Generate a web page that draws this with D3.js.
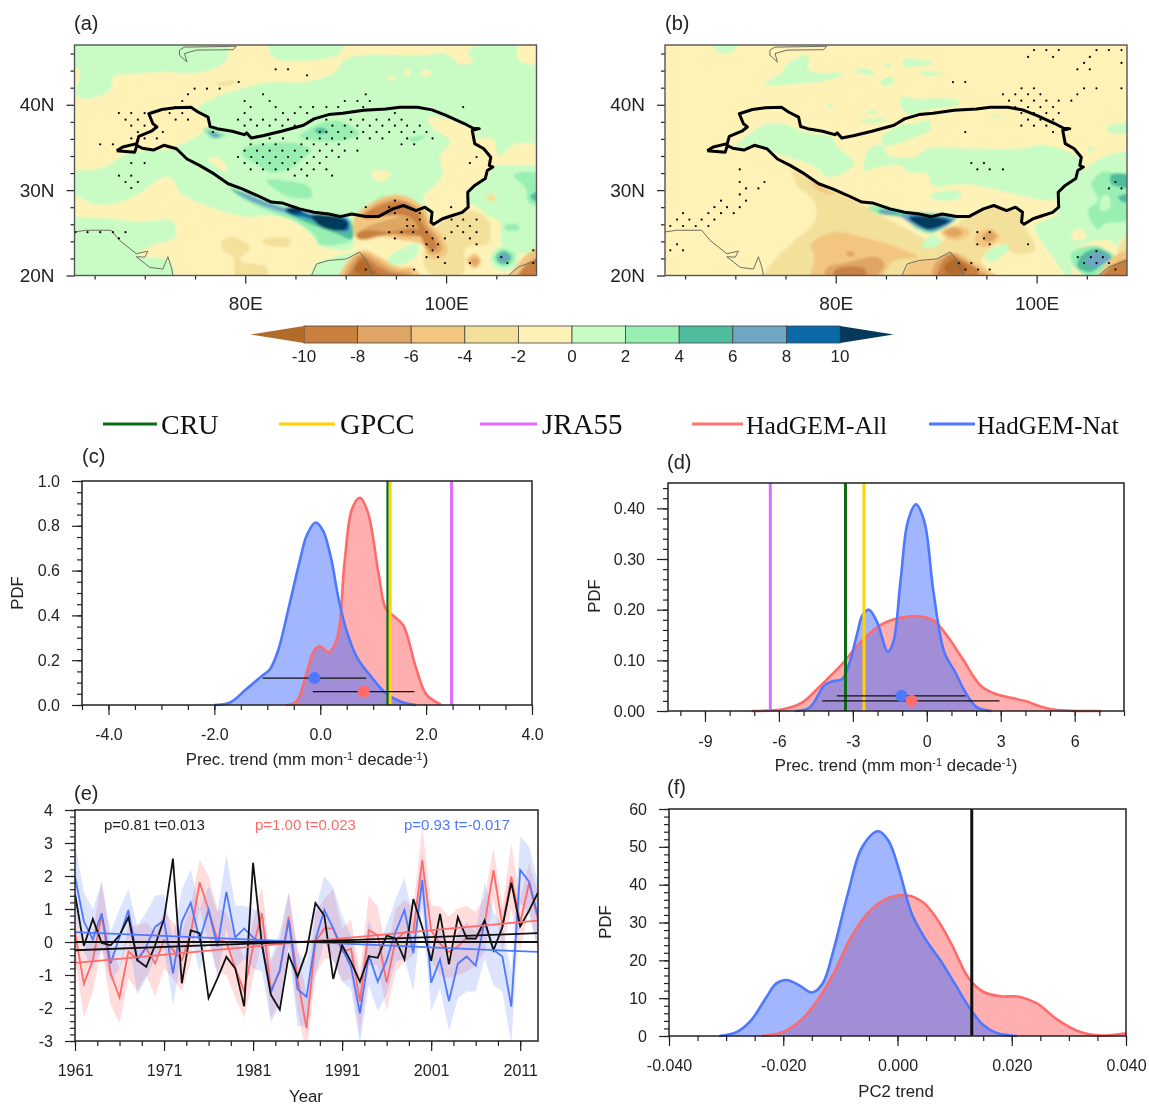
<!doctype HTML>
<html>
<head>
<meta charset="utf-8">
<script src="https://d3js.org/d3.v7.min.js"></script>
<style>
    html, body { margin: 0; background: #fff; }
    svg { display: block; filter: blur(0.4px); }
    text { font-family: "Liberation Sans", Arial, sans-serif; fill: #222; }
    .serif { font-family: "Liberation Serif", serif; fill: #111; }
</style>
</head>
<body>
<div id="viz"></div>
<script>
// ---- shared colour levels (prec. trend)
var levelBreaks = [-10, -8, -6, -4, -2, 0, 2, 4, 6, 8, 10];
var levelColors = ["#b36b2a", "#c9803f", "#dfa564", "#f3c67f", "#f3e09b", "#fef2b7",
                   "#c8fcc4", "#99efb2", "#50bc9e", "#6fa6c4", "#0a6aa8", "#053a5c"];

// Tibetan Plateau outline lon/lat
var tpOutline = [[67.2,34.6],[67.8,35.05],[69.2,35.45],[69.4,36.3],[70.65,36.9],[71.2,37.4],[70.8,37.8],[70.4,38.95],[71.7,39.45],[73,39.65],[74.6,39.7],[75.3,39.15],[76.3,38.55],[76.5,37.45],[77.2,37.2],[78.7,36.9],[79.9,36.5],[80.15,36.7],[80.6,36.1],[81.85,36.4],[83.6,36.9],[85.8,37.6],[86.85,38.35],[88.3,38.85],[89.7,39],[91.8,39.35],[94,39.5],[95.4,39.7],[97.15,39.7],[98.6,39.4],[100,38.75],[101.8,37.8],[102.7,37.25],[103.3,37.2],[102.6,37],[102.85,35.45],[103.75,34.85],[104.45,33.85],[104.3,32.9],[104.65,32.7],[104.1,32.3],[103.9,31.35],[102.85,30.55],[102.15,29.75],[102.2,28],[101.6,27.4],[100.55,27],[99.65,26.65],[98.75,26],[98.5,26.25],[98.6,27.4],[97.9,28],[97,27.6],[95.75,28.2],[94.7,27.8],[93.25,26.9],[92,26.9],[90.6,27.2],[89.5,26.9],[88.3,27.2],[86.85,27.4],[85.4,27.8],[83.65,28.5],[82.6,28.6],[81.15,29.4],[79.7,30.15],[78.3,30.75],[76.9,31.9],[75.45,32.9],[74.2,33.65],[73.15,34.85],[71.9,35.25],[70.85,34.7],[69.75,34.9],[69.2,35.25],[69,34.45],[67.2,34.6]];

var coastAral = [[73.45,46.4],[73.95,46.75],[79.1,46.85],[78.8,46.45],[75.15,46.4],[73.95,46],[74.2,45],[73.45,45.8],[73.45,46.4]];
var coastWest = [[63,25.1],[64.15,25.3],[66.65,25.3],[67.5,24.1],[69.15,22.55],[70.3,22.85],[70,22.15],[69.15,22.2],[70.5,20.95],[71.8,20.75],[72.3,22.2],[72.65,20.95],[72.8,20]];
var coastBengal = [[86.6,20],[87.1,21.35],[88.25,21.75],[90.1,21.95],[91.4,22.75],[92.05,21.75],[92.75,20]];
var coastSouthEast = [[106.2,20],[107.2,21],[109,21.75]];

// filled contour regions panel (a): [trend value, ring of lon/lat]. painted in order over a -1 background
var fieldsA = [
  [1, [[62,48],[78.1,48],[78.1,45.2],[76.8,44.2],[74.1,43.65],[72.5,43.85],[69.15,43.65],[66.8,43.25],[66.65,41.9],[64.5,40.7],[63.15,41.1],[63.5,44.05],[62,44.6]]],
  [1, [[82.4,48],[89.7,48],[89.4,46],[83,45.4],[82.4,46.3]]],
  [1, [[75.3,39.55],[77.1,40.9],[79.1,41.7],[82.4,42.65],[85.75,42.65],[88.75,43.65],[90.1,45.4],[97.7,45.8],[99.9,46],[101.35,44.8],[102.7,45],[102.2,46.2],[107,48],[107.2,45.2],[110,44],[110,23.15],[107,22.75],[105.5,23.7],[105.35,26.25],[104.2,27],[102.4,28.4],[99.05,26.45],[95.7,28.8],[91.75,27.6],[90.75,25.7],[90.6,23.15],[87.4,23.5],[86.75,24.5],[85.1,26.25],[82.75,27],[80.1,26.85],[77.45,27.6],[73.65,29.6],[72.45,31.55],[68.15,28.8],[65,28.4],[62,30.75],[62,32.1],[65.5,32.5],[68.65,34.45],[72.45,34.85],[75.8,36.8],[76.45,37.8]]],
  [1, [[62,26.3],[65.85,26.7],[69.15,26.3],[72.8,26.3],[73,24.55],[70.8,23.55],[69.3,22.35],[72.45,21.7],[72.8,19],[62,19]]],
  [1, [[86.4,19.8],[87.1,21.35],[88.75,22.15],[91.1,22.75],[91.75,22.55],[90.1,20.6],[89.4,19.8]]],
  [1, [[104.35,22.15],[105.7,23.55],[107.2,22.55],[106.7,20.8],[105,20.8]]],
  [-1, [[98.2,38.5],[100,38.35],[102.7,37],[103,36.2],[104.7,36],[105.2,34.05],[107,35.45],[110,34.85],[110,33.3],[105.35,32.9],[104.5,32.7],[104.35,32.1],[102.7,30.35],[102,29.2],[101.9,27.6],[99.7,26.85],[98.7,26.05],[98.2,27.6],[97.7,29.2],[98.7,30.35],[99.7,31.9],[99.4,33.9],[100.4,35.8],[98.7,37.2]]],
  [-1, [[92.55,32.1],[94.4,32.1],[94.05,31.15],[93.05,31.15]]],
  [-1, [[76.3,33.7],[77.45,33.7],[78.3,32.1],[77.45,32.5]]],
  [-1, [[97.55,44],[98.4,44],[98.4,43.45],[97.55,43.45]]],
  [-1, [[96.05,44.2],[96.4,44.2],[96.3,43.3],[96,43.3]]],
  [-1, [[94.05,43.25],[95.05,43.2],[94.4,42.85]]],
  [-3, [[104,29.2],[104.5,29.6],[105,29],[104.5,28.6]]],
  [-3, [[76.95,42.45],[79.3,42.85],[78.1,42.2]]],
  [-3, [[99.05,25.7],[100.4,26.85],[102.4,27.6],[104.2,26.45],[104.2,23.7],[102,23.3],[101.7,20.2],[98.7,20],[97.7,22.15]]],
  [-3, [[77.6,23.9],[78.8,24.5],[80.45,23.3],[79.45,21.75],[82.1,21],[82.1,19.8],[79.1,19.8],[78.8,22.15],[77.8,22.95]]],
  [-3, [[81.6,24.1],[84.4,24.3],[84.4,23.5],[82.4,23.5]]],
  [3, [[92.55,28.4],[93.75,29.4],[93.6,28.4]]],
  [-5, [[90.9,26.9],[93.75,29.2],[95.7,29.4],[97.9,27.8],[98.55,26.05],[99.7,24.5],[100.05,22.55],[98.55,21.95],[97.55,23.7],[95.7,24.1],[93.75,24.5],[91.75,24.1],[90.9,24.5],[90.75,25.45]]],
  [-7, [[91.55,26.9],[93.9,28.8],[95.7,28.85],[97.55,27.6],[98.2,25.85],[99.2,24.5],[99.55,22.95],[98.4,22.55],[97.55,24.5],[96.05,24.5],[93.75,25.1],[92.05,24.5],[91.15,24.9],[92.4,25.85],[95.4,27]]],
  [-9, [[91.75,27],[93.9,28.4],[95.7,28.6],[97.05,27.6],[97.7,26],[98.9,24.1],[99.05,23.15],[98.2,23.15],[97.4,24.9],[97.05,26.05],[96.05,27],[94.05,27],[92.05,26.65]]],
  [-9, [[91.15,24.9],[92.4,25.3],[94.4,25.1],[97.05,25.45],[97.7,24.7],[95.7,24.9],[93.4,24.7],[92.05,24.3],[91.3,24.3]]],
  [-5, [[89.4,19],[90.1,21.55],[91.75,22.95],[93.4,22.15],[95.4,20.95],[96.7,20.95],[97.7,19]]],
  [-7, [[89.9,19],[90.4,21.35],[91.65,22.6],[93.2,21.75],[94.9,20.6],[96.4,20.4],[96.7,19]]],
  [-9, [[90.2,19],[90.9,21.35],[91.65,22.3],[92.9,21.35],[94.4,20.4],[95.7,20],[95.9,19]]],
  [-11, [[90.9,20.6],[91.75,21.95],[92.55,20.95],[93.2,20.2],[91.4,20.2]]],
  [-3, [[106,19],[107.2,21.35],[110,24],[110,19]]],
  [-5, [[106.4,19],[107.7,22.15],[110,23.2],[110,19]]],
  [-9, [[107,19],[108,21.35],[110,22.15],[110,19]]],
  [-5, [[102,21.75],[102.85,22.55],[103.5,21.75],[102.85,20.8]]],
  [-7, [[102.4,21.65],[102.85,22.15],[103.3,21.55],[102.85,21.15]]],
  [3, [[104.7,22.15],[105.7,23.15],[106.85,22.35],[106.35,21.2],[105.2,21.2]]],
  [5, [[105,22.15],[105.7,22.85],[106.5,22.2],[106.1,21.45],[105.35,21.45]]],
  [7, [[105.2,22.15],[105.7,22.65],[106.3,22.15],[105.85,21.7],[105.4,21.7]]],
  [1, [[94.25,22.15],[95.7,23.15],[97.05,23.9],[97.2,22.55],[95.7,21.35],[94.4,21.35]]],
  [3, [[78.45,30.35],[80.1,29.75],[83.1,28.4],[85.75,27.4],[90.1,27],[90.75,25.65],[90.6,24.1],[87.4,23.7],[86.9,24.7],[85.1,26.25],[82.1,27.6],[79.45,29.2]]],
  [5, [[78.6,30.15],[82.45,28.4],[86.4,27.2],[90.4,26.45],[90.6,24.3],[89.1,24.9],[86.4,26.05],[83.4,27.6],[79.45,29.4]]],
  [7, [[79.45,29.75],[83.1,28.2],[86.75,27.2],[90.4,26.45],[90.1,25.1],[88.4,25.65],[86.1,26.85],[83.75,27.4],[79.8,29.2]]],
  [9, [[83.95,27.8],[85.1,28],[86.4,27.2],[90.1,26.65],[90.25,25.3],[89.1,25.3],[86.4,26.65],[84.45,27.2]]],
  [11, [[86.6,27],[89.1,26.85],[90.25,26.05],[89.9,25.45],[88.75,25.3],[87.4,25.85]]],
  [11, [[84.1,27.6],[84.75,28],[85.6,27.4],[84.75,27.2]]],
  [3, [[85.4,36.2],[87.4,37.8],[89.4,38.1],[91.4,36.6],[89.75,35.8],[86.75,35.8]]],
  [3, [[79.8,34.85],[82.1,35.45],[85.1,35.45],[86.6,34.65],[85.75,33.7],[84.45,32.5],[82.45,32.1],[81.1,33.1],[79.8,33.9]]],
  [3, [[82.1,31.15],[83.75,31.15],[86.4,30.35],[86.6,29.2],[84.45,29.2],[83.1,30]]],
  [3, [[96.2,36],[98,36.4],[96.9,35.65]]],
  [5, [[86.9,37],[87.6,37.3],[88.25,36.9],[87.4,36.6]]],
  [3, [[75.8,37.2],[76.8,37.2],[78.1,36.4],[76.8,36]]],
  [7, [[76.3,36.9],[77.1,36.7],[77.6,36.3],[76.8,36.2]]],
  [3, [[106.7,31.75],[107.7,32.1],[110,31.55],[110,28.4],[108.35,28.4],[107.85,30.35]]],
  [5, [[108.35,29.2],[110,30.15],[110,28.4]]],
  [3, [[105.85,25.85],[107,26.05],[107.35,25.45],[106,25.3]]]
];

// panel (b)
var fieldsB = [
  [1, [[67.6,48],[70.9,48],[69.6,46.2],[68.25,46.2]]],
  [1, [[72.9,42.45],[74.55,43.65],[75.2,44.8],[77.2,45.8],[77.4,44],[80.7,43.65],[79.2,42.85],[75.9,42.45],[73.9,42.25]]],
  [1, [[84.85,44.6],[85.5,45],[85.35,44.4]]],
  [1, [[86.7,45.2],[87.85,45.4],[89.85,44.8],[87.85,44.5],[86.85,44.4]]],
  [1, [[81.85,44],[83.2,44.2],[84,43.45],[82.55,43.65]]],
  [1, [[88.2,43.85],[90.85,43.65],[89.2,43.35]]],
  [1, [[84.55,42.85],[85.7,43.25],[85.7,42.45],[84.55,42.35]]],
  [1, [[86.5,40.9],[87.85,40.7],[92.15,40.5],[92.35,40.1],[88.85,39.35],[87.5,38.75],[86.5,39.75]]],
  [1, [[82.2,38.15],[85.2,38.35],[83.85,37.8]]],
  [1, [[82.85,39.15],[84.2,39.35],[83.85,38.95]]],
  [1, [[87.85,37.8],[89.2,38.15],[89.5,37.2],[87.85,36.2],[84.85,35.25],[84.55,36.2],[86.5,37.6]]],
  [1, [[70.6,35.85],[73.25,37.8],[75.25,37.6],[76.9,36.8],[79.55,36.2],[80.2,35.05],[81.85,33.1],[80.55,31.9],[79.2,31.55],[77.9,32.8],[74.25,34.2],[71.9,35.15],[69.9,34.85]]],
  [1, [[82.85,32.3],[83.35,34.85],[84.7,35.25],[85.2,34.05],[87.85,33.9],[89.2,34.85],[94.15,34.85],[98.15,34.85],[100.8,35.25],[104.1,33.9],[104.6,32.7],[102.15,29.2],[100.8,28.8],[99.15,29.2],[92.5,30.75],[90.2,30.35],[89.5,30.75],[89.2,31.9],[87.2,32.1],[86.5,32.9],[84.2,32.7]]],
  [1, [[89.35,29.35],[90.85,29.95],[92.5,29.75],[92.15,29],[89.85,28.9]]],
  [1, [[95.3,38.7],[96.8,38.65],[95.8,38.45]]],
  [1, [[79.2,39.75],[79.7,40.3],[79.55,39.55]]],
  [1, [[99.8,25.7],[102.05,27.25],[102.15,29.2],[104.45,32.1],[106.8,33.9],[110,34.3],[110,25.65],[108.3,24.1],[108.1,23.3],[107.3,24.1],[104.1,23.3],[103.3,19.8],[101.65,22.1],[100.45,24.1]]],
  [1, [[107,37.4],[110,37.8],[110,36.8],[107.1,36.9]]],
  [1, [[105,34.85],[105.6,35.05],[105.45,34.45]]],
  [-1, [[103.45,24.9],[104.3,25.5],[105,24.5],[103.8,24.1]]],
  [3, [[105.45,30.75],[106.45,32.1],[107.45,32.1],[110,31.15],[110,26.85],[106.8,26.05],[106.1,25.45],[105.1,27.55],[106.1,28.8]]],
  [1, [[106.45,29.1],[107.1,29.4],[107.3,27.95],[106.45,27.6]]],
  [5, [[107.4,31.75],[108.6,31.95],[110,31.35],[110,30.35],[107.45,30.75]]],
  [5, [[108.1,29.2],[110,29.6],[110,28.8],[108.6,28.6]]],
  [3, [[103.45,22.55],[105.8,23.5],[108.1,21.75],[106.8,20.6],[105.3,19.8],[103.8,21]]],
  [5, [[104.3,22.15],[106,23.15],[107.45,22.15],[106.45,21.2],[105.3,20.4],[104.1,21]]],
  [7, [[104.8,21.75],[106.1,22.75],[107.3,21.95],[105.45,21]]],
  [-3, [[75.7,32.3],[76.9,31.75],[79.2,30.3],[82.5,28.4],[84.2,27.2],[85.85,26.25],[88.5,24.5],[90.15,23.7],[91.85,25.65],[92.5,26.45],[95.8,28],[98.45,27.2],[98.45,26.05],[99.5,24.5],[99.8,22.95],[97.85,22.55],[96.2,23.7],[94.5,21.75],[96.2,19],[85.85,19],[79.2,19],[72.6,19],[73.6,21.35],[75.9,24.1],[77.9,26.25],[77.9,28.6],[76.2,30.5]]],
  [-5, [[77.55,23.7],[80.05,25.1],[82.55,24.5],[85.2,23.7],[88.2,22.15],[85.85,21.75],[83.85,19],[77.55,19],[77.9,22.15]]],
  [-5, [[77.2,31.55],[77.9,30.75],[79.9,29.6],[78.2,30]]],
  [-7, [[79.05,20.8],[81.2,21.55],[84.2,22.15],[84.85,21.35],[83.2,19],[79.2,19]]],
  [-9, [[79.9,20.6],[82.85,20.8],[82.85,19],[80.2,19]]],
  [-7, [[81,22.6],[81.5,22.9],[81.9,22.5],[81.4,22.2]]],
  [-5, [[90.5,25.1],[91.85,25.85],[93.35,25.1],[92.15,24.1],[90.85,24.5]]],
  [-7, [[90.85,25.1],[91.85,25.6],[92.65,25],[91.85,24.5]]],
  [-5, [[94,24.9],[95.5,25.45],[96.3,24.5],[95,23.3],[94,23.7]]],
  [-7, [[94.65,24.7],[95.5,25.2],[96,24.5],[95,23.9]]],
  [1, [[94.85,22.55],[97.15,23.7],[97.15,22.95],[95.3,21.55]]],
  [1, [[88.5,23.3],[89.5,24.7],[90.5,24.1],[90.15,23.5]]],
  [-5, [[86.85,19],[87.35,21.35],[90.15,21.95],[91.5,22.75],[94.15,21.35],[96.8,19]]],
  [-7, [[89.85,19],[89.85,21.35],[91.5,22.55],[93.5,21.35],[95.8,19]]],
  [-9, [[90.15,19],[90.5,21.35],[91.5,22.55],[92.5,21.75],[94.15,20.6],[93.85,19]]],
  [-11, [[90.85,20.95],[91.85,21.95],[93.15,20.6],[91.15,20.2]]],
  [-3, [[108.3,23.7],[110,25.65],[110,21.95],[108.1,22.15]]],
  [-5, [[105.9,19],[107.8,22.3],[110,23],[110,19]]],
  [-9, [[106.1,19],[107.3,21],[110,22],[110,19]]],
  [3, [[83.2,28],[84.55,28.2],[86.85,27.6],[92.15,26.85],[91.15,25.85],[89.5,24.9],[88.2,25.3],[86.5,26.85],[84.2,27.2]]],
  [5, [[84.2,27.6],[85.5,27.8],[86.5,27.2],[91.85,26.65],[89.5,25.1],[87.85,26.05],[86.5,26.85],[84.55,27.2]]],
  [7, [[84.35,27.6],[85.5,27.7],[85.35,27.3],[84.55,27.3]]],
  [7, [[86.5,27.15],[91.85,26.65],[89.5,25.2],[87.5,26.05]]],
  [9, [[87.2,26.85],[89.2,27],[91.5,26.45],[89.35,25.35],[88.2,25.85]]],
  [11, [[87.35,26.65],[88.85,26.9],[91.15,26.35],[89.35,25.45],[88.2,25.95]]]
];

// significance stippling: [lat, [lons]]
var dotsA = [
  [44.15,[83.03,84.26]],[43.45,[86.16]],[42.66,[79.35]],[41.88,[74.96,76.19,77.45]],[41.22,[74.3,81.77,92]],
  [40.44,[73.73,79.94,82.43,89.91,91.17,92.4]],[39.73,[73.07,74.3,80.54,83.03,85.5,86.75,88.08,89.25,91.74,101.7]],
  [39.03,[67.42,68.65,69.98,72.47,73.73,79.94,83.76,84.93,86.16,94.9]],
  [38.25,[68.08,69.31,73.07,74.3,79.28,80.54,81.77,83.03,84.26,88.08,90.5,91.74,93.07,94.33,95.56]],
  [37.55,[68.65,69.98,79.94,81.17,82.43,83.7,84.93,88.68,89.91,91.17,92.4,93.66,94.9,96.12,97.38]],
  [36.8,[69.31,71.8,76.79,87.42,88.08,89.25,90.57,91.74,93.07,94.33,95.56,96.82,98.05]],
  [36.06,[68.65,69.98,71.2,82.43,83.76,86.16,87.42,88.65,89.91,91.14,92.4,93.66,96.12,98.65]],
  [35.36,[65.56,66.82,80.54,81.77,83.03,85.59,86.82,88.08,89.31,95.56,96.82]],
  [34.62,[79.94,81.17,82.43,83.7,84.93,86.16,87.42,88.65,89.91,91.17]],
  [33.88,[79.28,80.6,81.77,83.03,84.26,85.59,86.82,88.08,89.31,103.03]],
  [33.17,[68.65,69.98,79.94,81.17,82.43,83.7,84.93,86.16,87.42,102.37]],
  [32.43,[80.54,81.77,83.03,84.26,85.59,86.82,88.08]],
  [31.69,[67.42,68.65,84.93,86.16,88.65]],[30.95,[68.08,69.31]],[30.24,[68.65]],
  [28.76,[94.9]],[28,[92,94.33,100.5]],[27.3,[94.9,97.38]],[26.55,[96.12,97.38,100.54,101.7,103.03]],
  [25.8,[96.12,96.72,101.14,102.37]],[25.08,[63.1,64.3,65.56,66.82,68.08,94.33,95.56,96.72,98.05,100.54,101.7,103.03]],
  [24.34,[67.42,94.9,98.65,99.88,102.37]],[23.65,[98.05,99.2,103.03]],[22.95,[98.65,108.68]],
  [22.15,[98.05,99.2,105.5]],[21.45,[99.88,102.37,106.1,108.68]],[20.7,[92,96.82]]
];
var dotsB = [
  [46.4,[99.74,100.97,102.2,105.96,107.2,108.45]],[45.6,[99.15,101.64,105.3]],[44.9,[104.73,108.45]],[44.15,[104.06,105.3]],
  [42.66,[91.67,92.9]],[41.92,[98.5,99.74,104.73,105.96,108.45]],[41.22,[96.65,97.88,99.15,100.38,104.06]],
  [40.48,[97.25,98.48,99.74,100.97,102.2,103.46]],[39.73,[97.88,99.15,100.38,101.64]],[39.03,[98.48,99.74,100.97,102.2]],
  [38.25,[99.15,100.38,101.64]],[37.55,[98.48,99.74,100.97]],[36.8,[92.9,101.64]],[33.17,[93.5,94.76]],[32.43,[70.44,94.1,95.33,96.65]],
  [30.95,[70.44,72.9,107.85]],[30.2,[71.07,72.3,107.2,108.45]],[29.5,[70.44]],[28.76,[68.58,71.07]],[28,[67.92,69.18,70.44]],
  [27.3,[64.8,67.32,68.58,69.84]],[26.55,[64.2,65.43,66.65,67.92]],[25.8,[63.53,64.8,66.06,67.32]],[25.08,[94.1,95.33]],
  [24.34,[94.76]],[23.65,[64.2,94.1,95.33,99.15]],[22.95,[63.53,64.8]],[22.85,[105.96]],[22.15,[104.1,105.4,106.6]],
  [21.45,[92.25,93.5,104.73,105.96,107.2]],[20.7,[92.9,94.16,95.33,107.85]]
];

// panel (c) pdfs
var cNatX = [-2,-1.7,-1.4,-1.1,-0.95,-0.8,-0.6,-0.4,-0.25,-0.09,0.05,0.2,0.35,0.5,0.7,0.95,1.25,1.55,1.8];
var cNatY = [0,0.012,0.07,0.13,0.16,0.24,0.43,0.63,0.76,0.815,0.78,0.66,0.47,0.33,0.21,0.13,0.05,0.012,0];
var cAllX = [-0.65,-0.45,-0.25,-0.11,0,0.155,0.32,0.46,0.6,0.75,0.9,1.1,1.24,1.4,1.57,1.81,2.01,2.28];
var cAllY = [0,0.015,0.15,0.245,0.262,0.235,0.3,0.64,0.875,0.925,0.86,0.59,0.43,0.395,0.355,0.165,0.045,0.003];
var cObs = {cru: 1.27, gpcc: 1.32, jra: 2.48};
var cNatRange = [-1.09, -0.11, 0.87], cAllRange = [-0.14, 0.82, 1.78];

// panel (d) pdfs
var dNatX = [-5.35,-4.75,-4.17,-3.87,-3.43,-3.13,-2.84,-2.61,-2.35,-2.02,-1.58,-1.36,-1.06,-0.77,-0.44,-0.1,0.27,0.71,1.15,1.6,2.04,2.63];
var dNatY = [0,0.007,0.05,0.058,0.063,0.096,0.15,0.189,0.2,0.176,0.117,0.136,0.26,0.374,0.408,0.374,0.235,0.116,0.077,0.034,0.007,0];
var dAllX = [-7.1,-5.8,-5.05,-4.31,-3.43,-2.69,-1.8,-1.06,-0.4,0.27,0.86,1.45,2.19,2.78,3.96,5,7.06];
var dAllY = [0,0.004,0.017,0.05,0.093,0.136,0.172,0.184,0.187,0.179,0.146,0.103,0.05,0.034,0.02,0.004,0];
var dObs = {cru: -3.3, gpcc: -2.55, jra: -6.35};
var dNatRange = [-3.65, -1.03, 1.57], dAllRange = [-4.24, -0.62, 2.95];

// panel (e) series 1961-2013
var years = d3.range(1961, 2014);
var obsSeries = [1.45,-0.12,0.7,-0.03,-0.1,0.2,0.75,-0.55,-0.75,-0.1,0.7,2.53,-1.25,0.35,0.27,-1.7,-1.1,-0.45,-0.8,-1.95,2.4,-0.1,-1.6,-2.05,-0.4,-1.05,-0.3,1.18,0.8,-1.12,-0.1,-0.6,-1.2,-0.43,-0.48,0.2,0.1,-0.53,1.3,0.45,-0.57,0.85,-0.68,0.75,0.1,0.1,0.65,-0.25,0.45,1.8,0.47,0.95,1.5];
var allSeries = [0.3,-1.27,-0.55,0.82,-0.95,-1.68,-0.29,-0.53,-0.19,-0.65,0.06,-0.24,-0.55,0.26,1.81,0.97,0.06,0.01,-0.8,-1.5,-0.14,0.87,-1.45,-0.9,0.77,-1.1,-2.62,0,0.41,0.41,-0.3,-0.2,-1.8,0.36,0.2,-1.23,0.05,0.3,0.3,2.48,0.35,-0.05,-0.3,-0.14,0.14,0.1,0.55,2.18,0.5,1.98,0.6,1.78,0.67];
var natSeries = [1.98,0.62,0.08,0.87,-0.65,0.15,0.97,-0.55,-0.14,0.46,0.65,-0.95,0.62,1.19,0.06,0.97,-0.14,1.52,0.14,0.41,0.14,-0.04,-1.53,-0.85,0.67,-1.43,-1.66,0.06,0.97,0.41,-0.2,-0.75,-2.16,-0.4,-1.2,-0.55,0.3,0.97,-0.34,1.88,-1.23,-0.53,-1.79,-0.65,-0.44,-0.72,0.62,-0.24,-0.44,-1.96,2.18,1.83,0.77];
var allHi = [1,-0.3,0.3,1.88,-0.1,-0.8,0.5,0.5,0.6,0.3,0.9,0.6,0.3,1.1,2.5,2,1,0.9,0.2,-0.5,0.6,1.7,-0.6,0,1.5,-0.2,-1.6,0.9,1.3,1.6,0.4,0.7,-0.9,1.42,1.07,-0.3,1,1.27,1.07,3.5,1.12,1.07,0.77,1.02,1.09,0.92,1.37,2.85,1.07,3,1.27,2.4,1.5];
var allLo = [-0.5,-2.3,-1.5,-0.2,-1.9,-2.45,-1.1,-1.5,-1,-1.65,-0.8,-1.1,-1.5,-0.6,1,0,-0.9,-1,-1.7,-2.3,-1.1,0,-2.3,-1.8,-0.1,-2.1,-3.4,-1,-0.5,-0.5,-1.2,-1.1,-2.8,-0.7,-0.7,-2.1,-0.9,-0.6,-0.4,1.4,-0.6,-1,-1.1,-1,-0.9,-0.7,-0.3,1.3,-0.3,1,-0.3,1,-0.3];
var natHi = [3,1.5,1,1.8,0.3,1,1.6,0.5,0.9,1.4,1.45,0.1,1.6,2.2,1,1.7,0.9,2.65,1.1,1.1,1,0.9,-0.5,0.3,1.5,-0.3,-0.6,1,2,1.65,0.8,0.2,-1.2,0.7,-0.2,0.5,1.3,1.95,0.7,2.7,-0.3,0.5,-0.8,0.3,0.6,0.3,1.8,0.9,0.5,-0.9,3.2,2.9,1.8];
var natLo = [0.9,-0.3,-0.8,-0.2,-1.2,-0.8,0.1,-1.6,-1.1,-0.5,-0.2,-1.9,-0.4,0.2,-0.9,0.2,-1.1,0.4,-0.8,-0.5,-0.8,-0.9,-2.45,-1.9,-0.2,-2.55,-2.55,-1,0,-0.6,-1.2,-1.45,-3.1,-1.3,-2.1,-1.6,-0.6,-0.5,-1.5,1,-2.1,-1.4,-2.7,-1.7,-1.5,-1.5,-0.5,-1.3,-1.5,-3.1,1.2,0.8,-0.2];
var trendYears = [1961, 2013];
var obsTrend = [-0.25, 0.27], allTrend = [-0.63, 0.65], natTrend = [0.3, -0.3];
var zeroLine = [0, 0];

// panel (f) pdfs
var fNatX = [-0.0312,-0.0281,-0.0256,-0.0231,-0.0212,-0.0194,-0.0172,-0.015,-0.0131,-0.0112,-0.0087,-0.0062,-0.0034,-0.0016,0.0003,0.0025,0.005,0.0075,0.01,0.0125,0.015,0.0175,0.0209];
var fNatY = [0,1.1,4.2,9.9,13.9,14.8,13.4,11.5,13.9,22.7,37.6,49.9,54.1,51.7,43.8,32.3,25.3,20,13.9,7.7,2.9,0.7,0];
var fAllX = [-0.0238,-0.02,-0.0169,-0.0144,-0.0112,-0.0081,-0.005,-0.0019,0.0016,0.0044,0.0069,0.0094,0.0125,0.015,0.0181,0.0213,0.0244,0.0281,0.0319,0.0356,0.04];
var fAllY = [0,1.1,4.2,8.6,16.5,26.2,32.8,36.3,37.2,35.4,31,24.4,15.2,11.7,10.5,10.4,8.6,4.2,1.1,0.1,0.7];
var fObs = 0.013;

var legendNames = ["CRU", "GPCC", "JRA55", "HadGEM-All", "HadGEM-Nat"];
var legendColors = ["#0b6b12", "#ffd400", "#e06cff", "#ff7373", "#4d78ff"];

var allColor = "#ff6b6b", natColor = "#4d78ff";

// plain hyphen for negative tick labels, like the original
var loc = d3.formatLocale({decimal: ".", thousands: "", grouping: [3], currency: ["", ""], minus: "-"});

var svg = d3.select("#viz").append("svg").attr("width", 1149).attr("height", 1105);
var defs = svg.append("defs");
defs.append("filter").attr("id", "soft").append("feGaussianBlur").attr("stdDeviation", 0.8);

var levelScale = d3.scaleThreshold().domain(levelBreaks).range(levelColors);

function styleAxis(g, fontSize) {
    g.select(".domain").remove();
    g.selectAll("line").attr("stroke", "#222").attr("stroke-width", 1.2);
    g.selectAll("text").attr("font-size", fontSize);
}

function addAxes(g, x, y, o) {
    var h = y.range()[0], left = x.range()[0], fs = o.fontSize || 16;
    var xMinor = g.append("g").attr("transform", "translate(0," + h + ")")
        .call(d3.axisBottom(x).tickValues(o.xMinor).tickSize(o.minorLen || 5).tickFormat(""));
    styleAxis(xMinor, fs);
    var xMajor = g.append("g").attr("transform", "translate(0," + h + ")")
        .call(d3.axisBottom(x).tickValues(o.xMajor).tickSize(o.majorLen || 10).tickPadding(o.xPad || 14).tickFormat(o.xFormat));
    styleAxis(xMajor, fs);
    var yMinor = g.append("g").attr("transform", "translate(" + left + ",0)")
        .call(d3.axisLeft(y).tickValues(o.yMinor).tickSize(o.minorLen || 5).tickFormat(""));
    styleAxis(yMinor, fs);
    var yMajor = g.append("g").attr("transform", "translate(" + left + ",0)")
        .call(d3.axisLeft(y).tickValues(o.yMajor).tickSize(o.majorLen || 10).tickPadding(o.yPad || 12).tickFormat(o.yFormat));
    styleAxis(yMajor, fs);
    g.append("rect")
        .attr("x", left).attr("y", y.range()[1])
        .attr("width", x.range()[1] - left).attr("height", h - y.range()[1])
        .attr("fill", "none").attr("stroke", o.boxColor || "#222").attr("stroke-width", o.boxWidth || 1.5);
}

function panelLabel(txt, px, py) {
    svg.append("text").attr("x", px).attr("y", py).attr("font-size", 20).text(txt);
}

function fmtLon(d) { return d + "E"; }
function fmtLat(d) { return d + "N"; }

function drawMap(id, left, top, fields, dots) {
    var g = svg.append("g").attr("transform", "translate(" + left + "," + top + ")");
    var lonScale = d3.scaleLinear().domain([63, 109]).range([0, 462]);
    var latScale = d3.scaleLinear().domain([20, 47]).range([230.5, 0]);
    defs.append("clipPath").attr("id", "clip" + id).append("rect")
        .attr("width", 462).attr("height", 230.5);

    var inner = g.append("g").attr("clip-path", "url(#clip" + id + ")");
    var soft = inner.append("g").attr("filter", "url(#soft)");
    soft.append("rect").attr("x", -5).attr("y", -5).attr("width", 472).attr("height", 240)
        .attr("fill", levelScale(-1));

    var ring = d3.line().x(function(d) { return lonScale(d[0]); }).y(function(d) { return latScale(d[1]); })
        .curve(d3.curveCatmullRomClosed.alpha(0.5));
    soft.selectAll("path.field").data(fields).enter().append("path")
        .attr("class", "field")
        .attr("d", function(d) { return ring(d[1]); })
        .attr("fill", function(d) { return levelScale(d[0]); });

    var poly = d3.line().x(function(d) { return lonScale(d[0]); }).y(function(d) { return latScale(d[1]); });
    [coastAral, coastWest, coastBengal, coastSouthEast].forEach(function(c) {
        inner.append("path").attr("d", poly(c)).attr("fill", "none").attr("stroke", "#6f6f60").attr("stroke-width", 1);
    });

    dots.forEach(function(row) {
        inner.selectAll(null).data(row[1]).enter().append("circle")
            .attr("cx", function(d) { return lonScale(d); })
            .attr("cy", latScale(row[0]))
            .attr("r", 1.1).attr("fill", "#000");
    });

    inner.append("path").attr("d", poly(tpOutline)).attr("fill", "none")
        .attr("stroke", "#000").attr("stroke-width", 3).attr("stroke-linejoin", "round");

    addAxes(g, lonScale, latScale, {
        fontSize: 19, majorLen: 8, minorLen: 4, boxColor: "#555", boxWidth: 1.4, xPad: 13, yPad: 12,
        xMajor: [80, 100], xMinor: [65, 70, 75, 85, 90, 95, 105],
        yMajor: [20, 30, 40], yMinor: [22, 24, 26, 28, 32, 34, 36, 38, 42, 44, 46],
        xFormat: fmtLon, yFormat: fmtLat
    });
}

drawMap("a", 74.5, 45, fieldsA, dotsA);
drawMap("b", 665, 45, fieldsB, dotsB);
panelLabel("(a)", 74, 30);
panelLabel("(b)", 665, 30);

// colour bar
(function() {
    var barX = d3.scaleLinear().domain([-10, 10]).range([304, 840]);
    var g = svg.append("g");
    var top = 326, bottom = 343, mid = 334.5;
    levelBreaks.slice(0, -1).forEach(function(v, i) {
        g.append("rect").attr("x", barX(v)).attr("y", top)
            .attr("width", barX(levelBreaks[i + 1]) - barX(v)).attr("height", bottom - top)
            .attr("fill", levelColors[i + 1]).attr("stroke", "#444").attr("stroke-width", 0.8);
    });
    var tipL = barX(-12), tipR = barX(12);
    g.append("path").attr("d", d3.line()([[barX(-10), top], [barX(-10), bottom], [tipL, mid]]) + "Z").attr("fill", levelColors[0]);
    g.append("path").attr("d", d3.line()([[barX(10), top], [barX(10), bottom], [tipR, mid]]) + "Z").attr("fill", levelColors[11]);
    g.selectAll("text").data(levelBreaks).enter().append("text")
        .attr("x", function(d) { return barX(d); }).attr("y", 362)
        .attr("text-anchor", "middle").attr("font-size", 17).text(function(d) { return d; });
})();

// legend across the top of the pdf panels
var legendLines = [[103, 157], [279, 335], [480, 537], [692, 743], [929, 975]];
var legendText = [[161, 28], [340, 28.5], [542, 29], [746, 25.7], [977, 25]];
legendNames.forEach(function(name, i) {
    svg.append("line").attr("x1", legendLines[i][0]).attr("x2", legendLines[i][1]).attr("y1", 424).attr("y2", 424)
        .attr("stroke", legendColors[i]).attr("stroke-width", 3);
    svg.append("text").attr("class", "serif").attr("x", legendText[i][0]).attr("y", 434)
        .attr("font-size", legendText[i][1]).text(name);
});

function pdfPanel(o) {
    var g = svg.append("g");
    var x = d3.scaleLinear().domain(o.xDomain).range(o.xRange);
    var y = d3.scaleLinear().domain(o.yDomain).range(o.yRange);
    var pts = function(xs, ys) { return xs.map(function(v, i) { return [v, ys[i]]; }); };
    var area = d3.area().x(function(d) { return x(d[0]); }).y0(y(0)).y1(function(d) { return y(d[1]); }).curve(d3.curveCatmullRom.alpha(0.5));
    var line = d3.line().x(function(d) { return x(d[0]); }).y(function(d) { return y(d[1]); }).curve(d3.curveCatmullRom.alpha(0.5));
    var all = pts(o.allX, o.allY), nat = pts(o.natX, o.natY);
    g.append("path").attr("d", area(all)).attr("fill", "#ff5555").attr("fill-opacity", 0.47);
    g.append("path").attr("d", area(nat)).attr("fill", "#466eff").attr("fill-opacity", 0.5);
    g.append("path").attr("d", line(all)).attr("fill", "none").attr("stroke", allColor).attr("stroke-width", 2.6);
    g.append("path").attr("d", line(nat)).attr("fill", "none").attr("stroke", natColor).attr("stroke-width", 2.6);

    (o.obs || []).forEach(function(ob) {
        g.append("line").attr("x1", x(ob[0])).attr("x2", x(ob[0])).attr("y1", y.range()[0]).attr("y2", y.range()[1])
            .attr("stroke", ob[1]).attr("stroke-width", ob[2] || 3);
    });
    (o.ranges || []).forEach(function(r) {
        g.append("line").attr("x1", x(r.v[0])).attr("x2", x(r.v[2])).attr("y1", y(r.y)).attr("y2", y(r.y))
            .attr("stroke", "#111").attr("stroke-width", 1.3);
    });
    (o.ranges || []).forEach(function(r) {
        g.append("circle").attr("cx", x(r.v[1])).attr("cy", y(r.y)).attr("r", 6).attr("fill", r.c);
    });
    addAxes(g, x, y, o);
    return g;
}

function xTitle(px, py, parts) {
    var t = svg.append("text").attr("x", px).attr("y", py).attr("text-anchor", "middle").attr("font-size", 16.8);
    parts.forEach(function(p) {
        var s = t.append("tspan").text(p[0]);
        if (p[1]) s.attr("font-size", 11).attr("dy", -5);
        else if (p[2]) s.attr("dy", 5);
    });
}
function yTitle(px, py, txt) {
    svg.append("text").attr("transform", "translate(" + px + "," + py + ") rotate(-90)")
        .attr("text-anchor", "middle").attr("font-size", 16.8).text(txt);
}
var precTitle = [["Prec. trend (mm mon"], ["-1", true], [" decade", false, true], ["-1", true], [")", false, true]];

pdfPanel({
    xDomain: [-4.5, 4], xRange: [82, 532], yDomain: [0, 1], yRange: [705, 481],
    allX: cAllX, allY: cAllY, natX: cNatX, natY: cNatY,
    obs: [[cObs.gpcc, legendColors[1]], [cObs.cru, legendColors[0], 2.2], [cObs.jra, legendColors[2]]],
    ranges: [{v: cNatRange, y: 0.12, c: natColor}, {v: cAllRange, y: 0.06, c: allColor}],
    xMajor: [-4, -2, 0, 2, 4], xMinor: d3.range(-4.5, 4.01, 0.5),
    yMajor: [0, 0.2, 0.4, 0.6, 0.8, 1], yMinor: d3.range(0, 1.001, 0.05),
    xFormat: loc.format(".1f"), yFormat: loc.format(".1f")
});
panelLabel("(c)", 82, 463);
xTitle(307, 765, precTitle);
yTitle(23, 593, "PDF");

pdfPanel({
    xDomain: [-10.5, 8], xRange: [668, 1124], yDomain: [0, 0.45], yRange: [711, 483],
    allX: dAllX, allY: dAllY, natX: dNatX, natY: dNatY,
    obs: [[dObs.cru, legendColors[0]], [dObs.gpcc, legendColors[1]], [dObs.jra, legendColors[2]]],
    ranges: [{v: dNatRange, y: 0.03, c: natColor}, {v: dAllRange, y: 0.02, c: allColor}],
    xMajor: [-9, -6, -3, 0, 3, 6], xMinor: d3.range(-10, 8.01, 1),
    yMajor: [0, 0.1, 0.2, 0.3, 0.4], yMinor: d3.range(0, 0.451, 0.02),
    xFormat: loc.format("d"), yFormat: loc.format(".2f"), majorLen: 11
});
panelLabel("(d)", 667, 469);
xTitle(896, 771, precTitle);
yTitle(600, 596, "PDF");

// panel (e)
(function() {
    var g = svg.append("g");
    var x = d3.scaleLinear().domain([1961, 2013]).range([75, 538]);
    var y = d3.scaleLinear().domain([-3, 4]).range([1041, 810]);
    defs.append("clipPath").attr("id", "clipe").append("rect")
        .attr("x", 75).attr("y", 810).attr("width", 463).attr("height", 231);
    var inner = g.append("g").attr("clip-path", "url(#clipe)");
    var band = d3.area().x(function(d, i) { return x(years[i]); })
        .y0(function(d) { return y(d[0]); }).y1(function(d) { return y(d[1]); });
    var zip = function(a, b) { return a.map(function(v, i) { return [v, b[i]]; }); };
    inner.append("path").attr("d", band(zip(allLo, allHi))).attr("fill", "#ff6464").attr("fill-opacity", 0.22);
    inner.append("path").attr("d", band(zip(natLo, natHi))).attr("fill", "#5078ff").attr("fill-opacity", 0.2);

    var line = d3.line().x(function(d, i) { return x(years[i]); }).y(function(d) { return y(d); });
    inner.append("path").attr("d", line(allSeries)).attr("fill", "none").attr("stroke", allColor).attr("stroke-width", 1.8);
    inner.append("path").attr("d", line(natSeries)).attr("fill", "none").attr("stroke", natColor).attr("stroke-width", 1.8);
    inner.append("path").attr("d", line(obsSeries)).attr("fill", "none").attr("stroke", "#111").attr("stroke-width", 1.8);

    var straight = d3.line().x(function(d, i) { return x(trendYears[i]); }).y(function(d) { return y(d); });
    [[allTrend, allColor], [natTrend, natColor], [obsTrend, "#111"], [zeroLine, "#111"]].forEach(function(t) {
        inner.append("path").attr("d", straight(t[0])).attr("fill", "none").attr("stroke", t[1]).attr("stroke-width", 1.8);
    });
    addAxes(g, x, y, {
        xMajor: [1961, 1971, 1981, 1991, 2001, 2011], xMinor: d3.range(1961, 2013.1, 2.5),
        yMajor: [-3, -2, -1, 0, 1, 2, 3, 4], yMinor: d3.range(-3, 4.01, 0.2),
        xFormat: loc.format("d"), yFormat: loc.format("d")
    });
    var notes = [["p=0.81 t=0.013", 104, "#222"], ["p=1.00 t=0.023", 255, allColor], ["p=0.93 t=-0.017", 404, natColor]];
    notes.forEach(function(n) {
        svg.append("text").attr("x", n[1]).attr("y", 830).attr("font-size", 15).style("fill", n[2]).text(n[0]);
    });
})();
panelLabel("(e)", 74, 800);
xTitle(306, 1102, [["Year"]]);

pdfPanel({
    xDomain: [-0.04, 0.04], xRange: [669, 1126], yDomain: [0, 60], yRange: [1036, 809],
    allX: fAllX, allY: fAllY, natX: fNatX, natY: fNatY,
    obs: [[fObs, "#111", 3]],
    xMajor: [-0.04, -0.02, 0, 0.02, 0.04], xMinor: d3.range(-0.04, 0.0401, 0.005),
    yMajor: [0, 10, 20, 30, 40, 50, 60], yMinor: d3.range(0, 60.1, 2),
    xFormat: loc.format(".3f"), yFormat: loc.format("d")
});
panelLabel("(f)", 667, 794);
xTitle(896, 1097, [["PC2 trend"]]);
yTitle(611, 922, "PDF");
</script>
</body>
</html>
